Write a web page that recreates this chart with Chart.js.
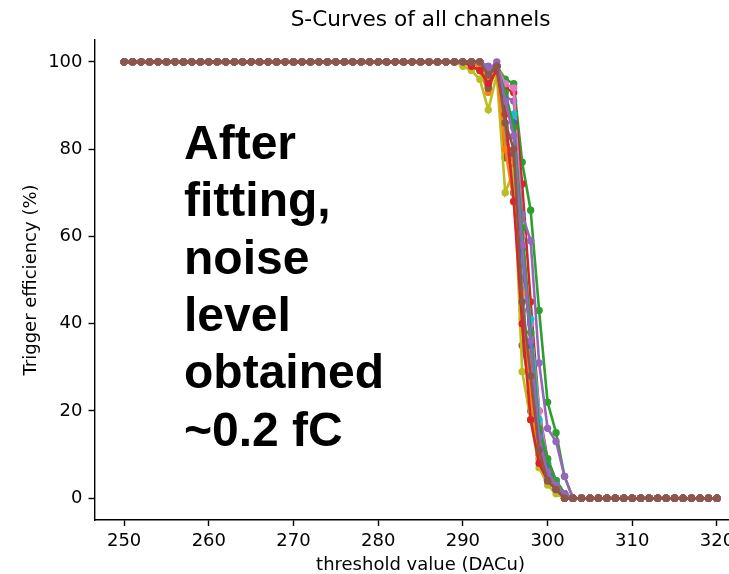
<!DOCTYPE html>
<html>
<head>
<meta charset="utf-8">
<script src="https://cdn.jsdelivr.net/npm/chart.js@4.4.0/dist/chart.umd.min.js"></script>
<style>
  html, body { margin: 0; padding: 0; background: #fff; }
  #wrap { position: relative; width: 729px; height: 574px; overflow: hidden; background: #fff; }
  #c { position: absolute; left: 0; top: 0; }
  #note { position: absolute; left: 184px; top: 113.7px; font-family: "Liberation Sans", Arial, sans-serif;
          font-weight: bold; font-size: 48px; line-height: 57.4px; color: #000; white-space: pre; }
</style>
</head>
<body>
<div id="wrap">
  <canvas id="c" width="760" height="574"></canvas>
  <div id="note">After
fitting,
noise
level
obtained
~0.2 fC</div>
</div>
<script>
const titleText = "S-Curves of all channels";
const xLabel = "threshold value (DACu)";
const yLabel = "Trigger efficiency (%)";
const xTicks = [250, 260, 270, 280, 290, 300, 310, 320];
const yTicks = [0, 20, 40, 60, 80, 100];
const thresholds = [250,251,252,253,254,255,256,257,258,259,260,261,262,263,264,265,266,267,268,269,270,271,272,273,274,275,276,277,278,279,280,281,282,283,284,285,286,287,288,289,290,291,292,293,294,295,296,297,298,299,300,301,302,303,304,305,306,307,308,309,310,311,312,313,314,315,316,317,318,319,320];

const ch00 = [100,100,100,100,100,100,100,100,100,100,100,100,100,100,100,100,100,100,100,100,100,100,100,100,100,100,100,100,100,100,100,100,100,100,100,100,100,100,100,100,100,100,99,96,99,82,70,43,30,14,6,3,1,0,0,0,0,0,0,0,0,0,0,0,0,0,0,0,0,0,0];
const ch01 = [100,100,100,100,100,100,100,100,100,100,100,100,100,100,100,100,100,100,100,100,100,100,100,100,100,100,100,100,100,100,100,100,100,100,100,100,100,100,100,100,100,99,98,93,99,84,76,41,31,12,5,2,0,0,0,0,0,0,0,0,0,0,0,0,0,0,0,0,0,0,0];
const ch02 = [100,100,100,100,100,100,100,100,100,100,100,100,100,100,100,100,100,100,100,100,100,100,100,100,100,100,100,100,100,100,100,100,100,100,100,100,100,100,100,100,100,100,100,97,99,96,95,77,66,43,22,15,5,0,0,0,0,0,0,0,0,0,0,0,0,0,0,0,0,0,0];
const ch03 = [100,100,100,100,100,100,100,100,100,100,100,100,100,100,100,100,100,100,100,100,100,100,100,100,100,100,100,100,100,100,100,100,100,100,100,100,100,100,100,100,100,100,99,94,99,94,93,72,45,20,9,4,1,0,0,0,0,0,0,0,0,0,0,0,0,0,0,0,0,0,0];
const ch04 = [100,100,100,100,100,100,100,100,100,100,100,100,100,100,100,100,100,100,100,100,100,100,100,100,100,100,100,100,100,100,100,100,100,100,100,100,100,100,100,100,100,100,100,99,99,92,91,65,59,31,16,13,5,0,0,0,0,0,0,0,0,0,0,0,0,0,0,0,0,0,0];
const ch05 = [100,100,100,100,100,100,100,100,100,100,100,100,100,100,100,100,100,100,100,100,100,100,100,100,100,100,100,100,100,100,100,100,100,100,100,100,100,100,100,100,100,100,99,94,99,78,79,35,25,10,5,3,0,0,0,0,0,0,0,0,0,0,0,0,0,0,0,0,0,0,0];
const ch06 = [100,100,100,100,100,100,100,100,100,100,100,100,100,100,100,100,100,100,100,100,100,100,100,100,100,100,100,100,100,100,100,100,100,100,100,100,100,100,100,100,100,100,100,98,99,95,94,60,40,20,8,4,1,0,0,0,0,0,0,0,0,0,0,0,0,0,0,0,0,0,0];
const ch07 = [100,100,100,100,100,100,100,100,100,100,100,100,100,100,100,100,100,100,100,100,100,100,100,100,100,100,100,100,100,100,100,100,100,100,100,100,100,100,100,100,100,100,99,96,99,85,70,50,20,9,4,2,0,0,0,0,0,0,0,0,0,0,0,0,0,0,0,0,0,0,0];
const ch08 = [100,100,100,100,100,100,100,100,100,100,100,100,100,100,100,100,100,100,100,100,100,100,100,100,100,100,100,100,100,100,100,100,100,100,100,100,100,100,100,100,99,98,96,89,97,70,75,29,18,7,3,1,0,0,0,0,0,0,0,0,0,0,0,0,0,0,0,0,0,0,0];
const ch09 = [100,100,100,100,100,100,100,100,100,100,100,100,100,100,100,100,100,100,100,100,100,100,100,100,100,100,100,100,100,100,100,100,100,100,100,100,100,100,100,100,100,100,99,95,99,89,88,55,41,18,8,4,1,0,0,0,0,0,0,0,0,0,0,0,0,0,0,0,0,0,0];
const ch10 = [100,100,100,100,100,100,100,100,100,100,100,100,100,100,100,100,100,100,100,100,100,100,100,100,100,100,100,100,100,100,100,100,100,100,100,100,100,100,100,100,100,100,100,97,99,90,86,57,35,15,7,3,1,0,0,0,0,0,0,0,0,0,0,0,0,0,0,0,0,0,0];
const ch11 = [100,100,100,100,100,100,100,100,100,100,100,100,100,100,100,100,100,100,100,100,100,100,100,100,100,100,100,100,100,100,100,100,100,100,100,100,100,100,100,100,100,100,99,96,98,80,68,47,22,10,6,3,1,0,0,0,0,0,0,0,0,0,0,0,0,0,0,0,0,0,0];
const ch12 = [100,100,100,100,100,100,100,100,100,100,100,100,100,100,100,100,100,100,100,100,100,100,100,100,100,100,100,100,100,100,100,100,100,100,100,100,100,100,100,100,100,100,100,98,99,93,85,62,38,16,9,4,1,0,0,0,0,0,0,0,0,0,0,0,0,0,0,0,0,0,0];
const ch13 = [100,100,100,100,100,100,100,100,100,100,100,100,100,100,100,100,100,100,100,100,100,100,100,100,100,100,100,100,100,100,100,100,100,100,100,100,100,100,100,100,100,99,98,95,98,88,68,40,18,8,4,2,0,0,0,0,0,0,0,0,0,0,0,0,0,0,0,0,0,0,0];
const ch14 = [100,100,100,100,100,100,100,100,100,100,100,100,100,100,100,100,100,100,100,100,100,100,100,100,100,100,100,100,100,100,100,100,100,100,100,100,100,100,100,100,100,100,100,98,100,91,83,58,36,14,6,3,1,0,0,0,0,0,0,0,0,0,0,0,0,0,0,0,0,0,0];
const ch15 = [100,100,100,100,100,100,100,100,100,100,100,100,100,100,100,100,100,100,100,100,100,100,100,100,100,100,100,100,100,100,100,100,100,100,100,100,100,100,100,100,100,100,100,97,99,86,80,45,28,11,4,2,0,0,0,0,0,0,0,0,0,0,0,0,0,0,0,0,0,0,0];

const channels = [ch00, ch01, ch02, ch03, ch04, ch05, ch06, ch07, ch08, ch09, ch10, ch11, ch12, ch13, ch14, ch15];
const palette = ["#1f77b4","#ff7f0e","#2ca02c","#d62728","#9467bd","#8c564b","#e377c2","#7f7f7f","#bcbd22","#17becf"];

const datasets = channels.map((vals, i) => {
  const col = palette[i % palette.length];
  return {
    label: "ch" + i,
    order: channels.length - i,
    data: thresholds.map((x, j) => ({ x: x, y: vals[j] })),
    borderColor: col,
    backgroundColor: col,
    pointBackgroundColor: col,
    pointBorderWidth: 0,
    pointRadius: 3.7,
    borderWidth: 2.6,
    tension: 0,
    fill: false
  };
});

const tickFont = { family: "DejaVu Sans", size: 18 };

new Chart(document.getElementById("c"), {
  type: "line",
  data: { datasets: datasets },
  options: {
    responsive: false,
    animation: false,
    devicePixelRatio: 1,
    layout: { padding: { left: 0, right: 13.4, top: 0, bottom: 0 } },
    plugins: {
      legend: { display: false },
      tooltip: { enabled: false },
      title: {
        display: true, text: titleText, fullSize: false, color: "#000",
        font: { family: "DejaVu Sans", size: 21.6, weight: "normal", lineHeight: 1.2 },
        padding: { top: 7, bottom: 7.1 }
      }
    },
    scales: {
      x: {
        type: "linear", min: 246.5, max: 323.5, offset: false,
        afterBuildTicks: s => { s.ticks = xTicks.map(v => ({ value: v })); },
        afterFit: s => { s.height = 54; },
        ticks: { color: "#000", font: tickFont, padding: 5, maxRotation: 0, autoSkip: false },
        grid: { drawOnChartArea: false, drawTicks: true, tickLength: 6, tickColor: "#000", tickWidth: 1.4 },
        border: { display: true, color: "#000", width: 1.4 },
        title: { display: true, text: xLabel, color: "#000", font: { family: "DejaVu Sans", size: 18, lineHeight: 1 }, padding: { top: 0, bottom: 0 } }
      },
      y: {
        type: "linear", min: -5, max: 105,
        afterBuildTicks: s => { s.ticks = yTicks.map(v => ({ value: v })); },
        afterFit: s => { s.width = 94.5; },
        ticks: { color: "#000", font: tickFont, padding: 6, autoSkip: false },
        grid: { drawOnChartArea: false, drawTicks: true, tickLength: 6, tickColor: "#000", tickWidth: 1.4 },
        border: { display: true, color: "#000", width: 1.4 },
        title: { display: true, text: yLabel, color: "#000", font: { family: "DejaVu Sans", size: 18, lineHeight: 1.2 }, padding: { top: 20.2, bottom: 0 } }
      }
    }
  }
});
</script>
</body>
</html>
